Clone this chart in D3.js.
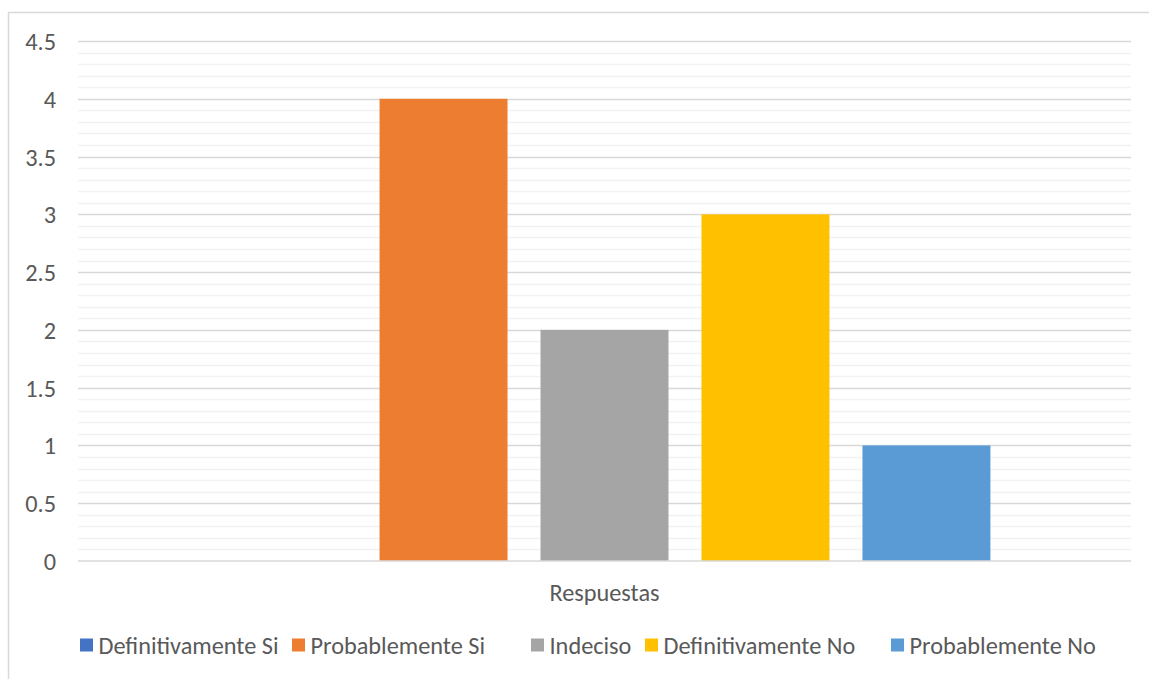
<!DOCTYPE html>
<html><head><meta charset="utf-8">
<script src="https://cdn.jsdelivr.net/npm/d3@7"></script>
<style>
html,body{margin:0;padding:0;background:#fff;}
svg{display:block;}
svg text{font-family:Carlito,Calibri,"Open Sans",sans-serif;}
</style></head>
<body><svg id="c" width="1149" height="679"></svg>
<script>
const categories = ["Respuestas"];
const seriesNames = ["Definitivamente Si","Probablemente Si","Indeciso","Definitivamente No","Probablemente No"];
const seriesValues = [0,4,2,3,1];
const seriesColors = ["#4472C4","#ED7D31","#A5A5A5","#FFC000","#5B9BD5"];
const yTicks = [0,0.5,1,1.5,2,2.5,3,3.5,4,4.5];

const svg = d3.select("#c");
const W = 1149, H = 679;
const m = {left:78, right:1131, top:41, bottom:561};
const FS = "24.3px";

// chart border (top & left visible)
svg.append("line").attr("x1",8).attr("x2",W).attr("y1",12.5).attr("y2",12.5).attr("stroke","#d9d9d9").attr("stroke-width",1.5);
svg.append("line").attr("x1",8.5).attr("x2",8.5).attr("y1",12).attr("y2",H).attr("stroke","#d9d9d9").attr("stroke-width",1.5);

const y = d3.scaleLinear().domain([0,4.5]).range([m.bottom,m.top]);
const x0 = d3.scaleBand().domain(categories).range([m.left,m.right]).paddingInner(0).paddingOuter(0);

// minor gridlines
const minor = d3.range(0,4.5001,0.1).filter(v=>Math.abs(v*2-Math.round(v*2))>1e-6);
svg.append("g").selectAll("line").data(minor).join("line")
  .attr("x1",m.left).attr("x2",m.right)
  .attr("y1",d=>Math.round(y(d))+0.5).attr("y2",d=>Math.round(y(d))+0.5)
  .attr("stroke","#f2f2f2").attr("stroke-width",1.5);

// major gridlines
svg.append("g").selectAll("line").data(yTicks.filter(d=>d>0)).join("line")
  .attr("x1",m.left).attr("x2",m.right)
  .attr("y1",d=>Math.round(y(d))+0.5).attr("y2",d=>Math.round(y(d))+0.5)
  .attr("stroke","#d9d9d9").attr("stroke-width",1.5);

// y axis labels
const yAxis = d3.axisLeft(y).tickValues(yTicks).tickSize(0).tickPadding(0).tickFormat(d=>String(d));
const ga = svg.append("g").attr("transform",`translate(${56},0)`).call(yAxis);
ga.attr("font-family",null).attr("font-size",null);
ga.select(".domain").remove();
ga.selectAll("text").attr("fill","#595959").style("font-size",FS).attr("dy","0.35em");

// bars
const groupW = x0.bandwidth()*0.733;
const x1 = d3.scaleBand().domain(seriesNames)
  .range([x0("Respuestas")+(x0.bandwidth()-groupW)/2, x0("Respuestas")+(x0.bandwidth()+groupW)/2])
  .paddingInner(0.205).paddingOuter(0);
svg.append("g").selectAll("rect").data(seriesNames).join("rect")
  .attr("x",(d)=>x1(d))
  .attr("width",x1.bandwidth())
  .attr("y",(d,i)=>y(seriesValues[i]))
  .attr("height",(d,i)=>y(0)-y(seriesValues[i]))
  .attr("fill",(d,i)=>seriesColors[i]);

// x axis line
svg.append("line").attr("x1",m.left).attr("x2",m.right).attr("y1",y(0)).attr("y2",y(0))
  .attr("stroke","#d9d9d9").attr("stroke-width",1.5);

// category label
svg.append("text").attr("x",x0("Respuestas")+x0.bandwidth()/2).attr("y",592).attr("dy","0.35em")
  .attr("text-anchor","middle").attr("fill","#595959").style("font-size",FS).text(categories[0]);

// legend
const legendX = [80,292,531,645,891];
const lg = svg.append("g");
seriesNames.forEach((n,i)=>{
  lg.append("rect").attr("x",legendX[i]).attr("y",638.5).attr("width",13).attr("height",13).attr("fill",seriesColors[i]);
  lg.append("text").attr("x",legendX[i]+18.5).attr("y",645).attr("dy","0.35em")
    .attr("fill","#595959").style("font-size",FS).text(n);
});
</script></body></html>
